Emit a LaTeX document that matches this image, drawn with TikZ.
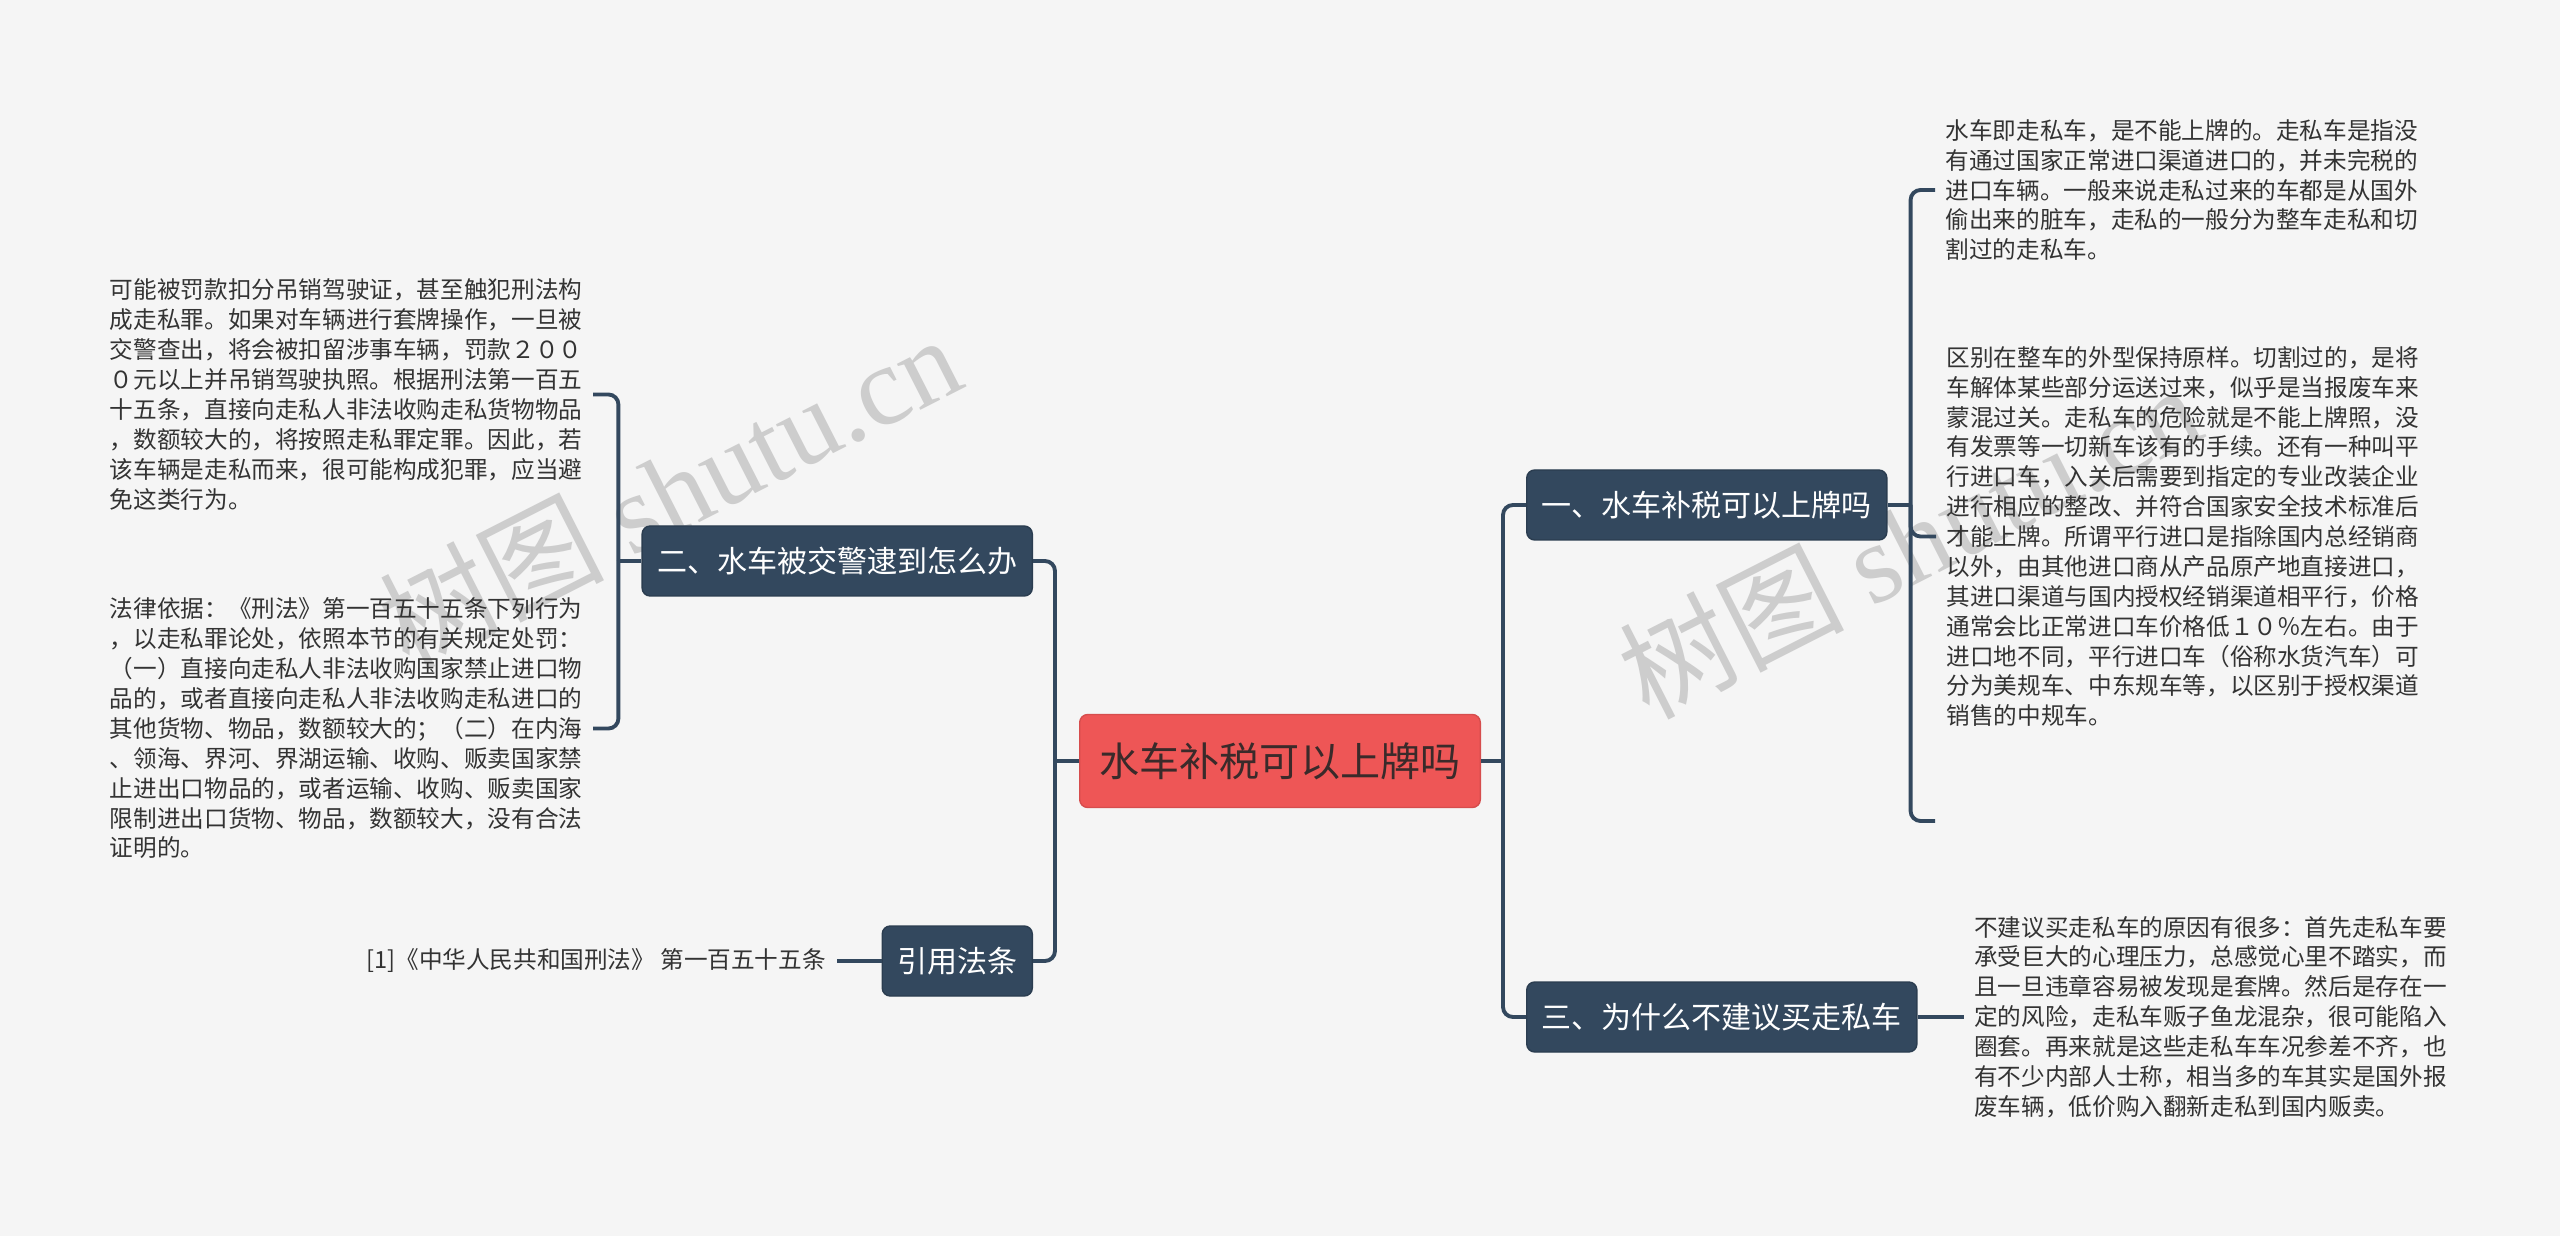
\documentclass[tikz,border=0pt]{standalone}
\usepackage{fontspec}
\setmainfont{Noto Sans CJK SC}
\newfontfamily\wmfont{Liberation Serif}
\usepackage{tikz}
\usetikzlibrary{positioning}
\definecolor{bggray}{RGB}{245,245,245}
\definecolor{navy}{RGB}{51,72,94}
\definecolor{rootred}{RGB}{238,86,86}
\definecolor{rootink}{RGB}{58,42,42}
\definecolor{leafink}{RGB}{51,51,51}
\definecolor{wmgray}{RGB}{205,205,205}
\tikzstyle{branch} = [rectangle, draw=navy!85!black, fill=navy, text=white, rounded corners=0.08cm, inner xsep=0.15cm, inner ysep=0pt, minimum height=0.70cm, font=\fontsize{8.54pt}{10pt}\selectfont]
\tikzstyle{leaf} = [inner xsep=0.1cm, inner ysep=0pt, align=left, text=leafink, font=\fontsize{6.72pt}{8.5pt}\selectfont]
\tikzstyle{link} = [line width=1.1pt, color=navy, rounded corners=0.1cm]
\tikzstyle{wmark} = [rotate=27, text=wmgray, font=\fontsize{32pt}{32pt}\selectfont]

\begin{document}
\begin{tikzpicture}
% Canvas
\fill[bggray] (0,0) rectangle (25.6,-12.36);
\useasboundingbox (0,0) rectangle (25.6,-12.36);

% Watermarks
\node[wmark] (wmleft) at (6.69,-4.90) {树图 {\wmfont shutu.cn}};
\node[wmark] (wmright) at (19.09,-5.40) {树图 {\wmfont shutu.cn}};

% Root and main branches
\node[rectangle, draw=rootred!90!black, fill=rootred, text=rootink, rounded corners=0.08cm, inner xsep=0.2cm, inner ysep=0pt, minimum height=0.93cm, font=\fontsize{11.4pt}{13pt}\selectfont] (root) at (12.80,-7.61) {水车补税可以上牌吗};
\node[branch, anchor=west] (sec1) at (15.26,-5.05) {一、水车补税可以上牌吗};
\node[branch, anchor=west] (sec3) at (15.26,-10.17) {三、为什么不建议买走私车};
\node[branch, anchor=east] (sec2) at (10.33,-5.61) {二、水车被交警逮到怎么办};
\node[branch, anchor=east] (cite) at (10.33,-9.61) {引用法条};

% Right leaves
\node[leaf, anchor=west] (leaf1) at (19.35,-1.90) {水车即走私车，是不能上牌的。走私车是指没\\有通过国家正常进口渠道进口的，并未完税的\\进口车辆。一般来说走私过来的车都是从国外\\偷出来的脏车，走私的一般分为整车走私和切\\割过的走私车。};
\node[leaf, anchor=west] (leaf2) at (19.36,-5.365) {区别在整车的外型保持原样。切割过的，是将\\车解体某些部分运送过来，似乎是当报废车来\\蒙混过关。走私车的危险就是不能上牌照，没\\有发票等一切新车该有的手续。还有一种叫平\\行进口车，入关后需要到指定的专业改装企业\\进行相应的整改、并符合国家安全技术标准后\\才能上牌。所谓平行进口是指除国内总经销商\\以外，由其他进口商从产品原产地直接进口，\\其进口渠道与国内授权经销渠道相平行，价格\\通常会比正常进口车价格低１０％左右。由于\\进口地不同，平行进口车（俗称水货汽车）可\\分为美规车、中东规车等，以区别于授权渠道\\销售的中规车。};
\coordinate (leaf0) at (19.35,-8.21);
\node[leaf, right=0.46cm of sec3] (leaf3) {不建议买走私车的原因有很多：首先走私车要\\承受巨大的心理压力，总感觉心里不踏实，而\\且一旦违章容易被发现是套牌。然后是存在一\\定的风险，走私车贩子鱼龙混杂，很可能陷入\\圈套。再来就是这些走私车车况参差不齐，也\\有不少内部人士称，相当多的车其实是国外报\\废车辆，低价购入翻新走私到国内贩卖。};

% Left leaves
\node[leaf, anchor=east] (leaf4) at (5.93,-3.945) {可能被罚款扣分吊销驾驶证，甚至触犯刑法构\\成走私罪。如果对车辆进行套牌操作，一旦被\\交警查出，将会被扣留涉事车辆，罚款２００\\０元以上并吊销驾驶执照。根据刑法第一百五\\十五条，直接向走私人非法收购走私货物物品\\，数额较大的，将按照走私罪定罪。因此，若\\该车辆是走私而来，很可能构成犯罪，应当避\\免这类行为。};
\node[leaf, anchor=east] (leaf5) at (5.93,-7.285) {法律依据：《刑法》第一百五十五条下列行为\\，以走私罪论处，依照本节的有关规定处罚：\\（一）直接向走私人非法收购国家禁止进口物\\品的，或者直接向走私人非法收购走私进口的\\其他货物、物品，数额较大的；（二）在内海\\、领海、界河、界湖运输、收购、贩卖国家禁\\止进出口物品的，或者运输、收购、贩卖国家\\限制进出口货物、物品，数额较大，没有合法\\证明的。};
\node[leaf, left=0.45cm of cite] (ref) {[1]《中华人民共和国刑法》 第一百五十五条};

% Connectors
\draw[link] (root.west) -- ++(-0.24,0) coordinate (jl);
\draw[link] (jl) |- (sec2.east);
\draw[link] (jl) |- (cite.east);
\draw[link] (root.east) -- ++(0.22,0) coordinate (jr);
\draw[link] (jr) |- (sec1.west);
\draw[link] (jr) |- (sec3.west);
\draw[link] (sec1.east) -- ++(0.23,0) coordinate (j1);
\draw[link] (j1) |- (leaf1.west);
\draw[link] (j1) |- (leaf2.west);
\draw[link] (j1) |- (leaf0);
\draw[link] (sec2.west) -- ++(-0.23,0) coordinate (j2);
\draw[link] (j2) |- (leaf4.east);
\draw[link] (j2) |- (leaf5.east);
\draw[link] (sec3.east) -- (leaf3.west);
\draw[link] (cite.west) -- (ref.east);
\end{tikzpicture}
\end{document}
